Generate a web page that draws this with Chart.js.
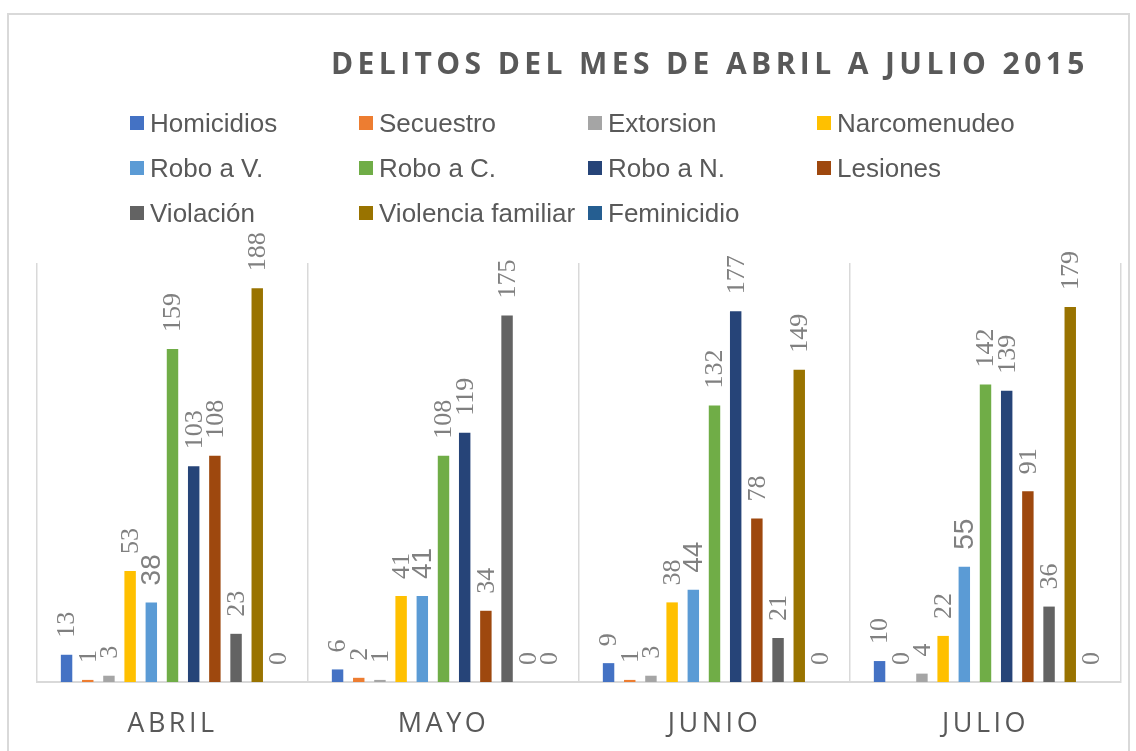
<!DOCTYPE html>
<html>
<head>
<meta charset="utf-8">
<script src="https://cdn.jsdelivr.net/npm/chart.js@4"></script>
<style>
  body { margin: 0; background: #fff; }
  #wrap { position: relative; width: 1136px; height: 751px; overflow: hidden; }
  #frame { position: absolute; left: 7px; top: 13px; width: 1123px; height: 800px; border: 2px solid #d9d9d9; box-sizing: border-box; }
  #title { position: absolute; left: 331px; top: 48px; font: bold 30px 'Open Sans', sans-serif; line-height: 1; letter-spacing: 4.4px; color: #595959; white-space: nowrap; }
  .item { position: absolute; display: flex; align-items: center; font: 26px 'Liberation Sans', Arial, sans-serif; line-height: 1; color: #595959; white-space: nowrap; }
  .item span.box { width: 14px; height: 14px; margin-right: 6px; }
  canvas { position: absolute; left: 0; top: 0; }
</style>
</head>
<body>
<div id="wrap">
  <div id="frame"></div>
  <canvas id="chart" width="1136" height="751"></canvas>
  <div id="title">DELITOS DEL MES DE ABRIL A JULIO 2015</div>
  <div id="legend"></div>
</div>
<script>
// Months
const months = ['ABRIL', 'MAYO', 'JUNIO', 'JULIO'];

// Series, one value per month
const homicidios = [13, 6, 9, 10];
const secuestro = [1, 2, 1, 0];
const extorsion = [3, 1, 3, 4];
const narcomenudeo = [53, 41, 38, 22];
const roboV = [38, 41, 44, 55];
const roboC = [159, 108, 132, 142];
const roboN = [103, 119, 177, 139];
const lesiones = [108, 34, 78, 91];
const violacion = [23, 175, 21, 36];
const violenciaFamiliar = [188, 0, 149, 179];
const feminicidio = [0, 0, 0, 0];

const seriesNames = ['Homicidios', 'Secuestro', 'Extorsion', 'Narcomenudeo', 'Robo a V.', 'Robo a C.',
  'Robo a N.', 'Lesiones', 'Violación', 'Violencia familiar', 'Feminicidio'];
const seriesData = [homicidios, secuestro, extorsion, narcomenudeo, roboV, roboC,
  roboN, lesiones, violacion, violenciaFamiliar, feminicidio];
const seriesColors = ['#4472c4', '#ed7d31', '#a5a5a5', '#ffc000', '#5b9bd5', '#70ad47',
  '#264478', '#9e480e', '#636363', '#997300', '#255e91'];

const datasets = seriesNames.map((name, i) => ({
  label: name,
  data: seriesData[i],
  backgroundColor: seriesColors[i],
  categoryPercentage: 0.86,
  barPercentage: 0.54
}));

// Letter spacing for the month labels only
const spacing = {
  id: 'spacing',
  beforeDraw(chart) { chart.ctx.letterSpacing = '3.5px'; },
  beforeDatasetsDraw(chart) { chart.ctx.letterSpacing = '0px'; }
};

// Vertical value labels above each bar
const valueLabels = {
  id: 'valueLabels',
  afterDatasetsDraw(chart) {
    const ctx = chart.ctx;
    chart.data.datasets.forEach((ds, i) => {
      const meta = chart.getDatasetMeta(i);
      const big = i === 4;
      meta.data.forEach((bar, j) => {
        ctx.save();
        ctx.fillStyle = '#808080';
        ctx.font = big ? '28px "Liberation Sans", Arial, sans-serif' : '26px "Liberation Serif", "Times New Roman", serif';
        ctx.textAlign = 'left';
        ctx.textBaseline = 'middle';
        ctx.translate(bar.x + 1, bar.y - 17);
        ctx.rotate(-Math.PI / 2);
        ctx.fillText(String(ds.data[j]), 0, 0);
        ctx.restore();
      });
    });
  }
};

const chart = new Chart(document.getElementById('chart'), {
  type: 'bar',
  data: { labels: months, datasets: datasets },
  options: {
    responsive: false,
    animation: false,
    layout: { padding: { left: 37, right: 15, top: 263, bottom: 0 } },
    plugins: {
      legend: { display: false },
      tooltip: { enabled: false }
    },
    scales: {
      x: {
        grid: { color: '#d9d9d9', lineWidth: 1.5, drawTicks: false, offset: true },
        border: { color: '#d9d9d9', width: 2 },
        ticks: { color: '#595959', font: { family: 'Open Sans', size: 27 }, padding: 26 },
        afterFit(scale) { scale.height = 69; }
      },
      y: { display: false, min: 0, max: 200 }
    }
  },
  plugins: [spacing, valueLabels]
});

// Legend laid out as the four-column grid of the original
const legendEl = document.getElementById('legend');
const colX = [130, 359, 588, 817];
const rowY = [110, 155, 200];
chart.data.datasets.forEach((ds, i) => {
  const item = document.createElement('div');
  item.className = 'item';
  item.style.left = colX[i % 4] + 'px';
  item.style.top = rowY[Math.floor(i / 4)] + 'px';
  const box = document.createElement('span');
  box.className = 'box';
  box.style.background = ds.backgroundColor;
  item.appendChild(box);
  item.appendChild(document.createTextNode(ds.label));
  legendEl.appendChild(item);
});
</script>
</body>
</html>
